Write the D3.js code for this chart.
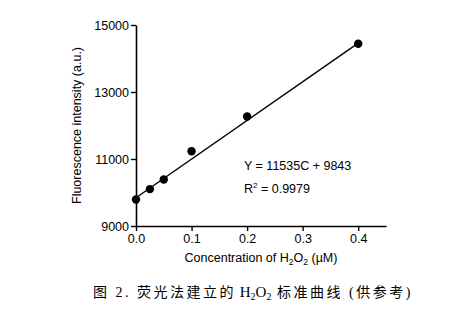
<!DOCTYPE html>
<html>
<head>
<meta charset="utf-8">
<script src="https://cdn.jsdelivr.net/npm/d3@7"></script>
<style>
  html, body { margin: 0; padding: 0; background: #fff; }
  svg { display: block; }
  text { fill: #000; }
</style>
</head>
<body>
<svg id="chart" width="465" height="322"></svg>
<script>
// H2O2 standard curve measurements
const concentrations = [0, 0.025, 0.05, 0.1, 0.2, 0.4];          // µM
const intensities    = [9790, 10100, 10390, 11230, 12270, 14440]; // a.u.
const slope = 11535, intercept = 9843;
const fitRange = [0, 0.4];
const xTicks = [0, 0.1, 0.2, 0.3, 0.4];
const yTicks = [9000, 11000, 13000, 15000];

const svg = d3.select("#chart");
const plotLeft = 136, plotRight = 386, plotTop = 25, plotBottom = 226;

const x = d3.scaleLinear().domain([0, 0.45]).range([plotLeft, plotRight]);
const y = d3.scaleLinear().domain([9000, 15000]).range([plotBottom, plotTop]);

const font = "'Liberation Sans', Arial, sans-serif";

// axes
const xAxis = svg.append("g")
  .attr("transform", `translate(0,${plotBottom})`)
  .call(d3.axisBottom(x).tickValues(xTicks).tickFormat(d3.format(".1f")).tickSize(5).tickSizeOuter(0));
const yAxis = svg.append("g")
  .attr("transform", `translate(${plotLeft},0)`)
  .call(d3.axisLeft(y).tickValues(yTicks).tickFormat(d3.format("d")).tickSize(5).tickSizeOuter(0));

[xAxis, yAxis].forEach(g => {
  g.select(".domain").attr("stroke", "#000").attr("stroke-width", 1.6);
  g.selectAll(".tick line").attr("stroke", "#000").attr("stroke-width", 1.4);
  g.selectAll(".tick text").attr("font-family", font).attr("font-size", 12.5).attr("fill", "#000");
});
xAxis.selectAll(".tick text").attr("dy", "0.75em").attr("y", 8);
yAxis.selectAll(".tick text").attr("x", -7);

// fitted line
svg.append("line")
  .attr("x1", x(fitRange[0])).attr("y1", y(slope * fitRange[0] + intercept))
  .attr("x2", x(fitRange[1])).attr("y2", y(slope * fitRange[1] + intercept))
  .attr("stroke", "#000").attr("stroke-width", 1.4);

// data points
svg.append("g").selectAll("circle")
  .data(concentrations.map((c, i) => [c, intensities[i]]))
  .join("circle")
  .attr("cx", d => x(d[0])).attr("cy", d => y(d[1]))
  .attr("r", 4.2).attr("fill", "#000");

// equation
svg.append("text")
  .attr("x", 244).attr("y", 170)
  .attr("font-family", font).attr("font-size", 12.5)
  .text(`Y = ${slope}C + ${intercept}`);
const r2 = svg.append("text")
  .attr("x", 244).attr("y", 193)
  .attr("font-family", font).attr("font-size", 12.5);
r2.append("tspan").text("R");
r2.append("tspan").attr("font-size", 8).attr("dy", -5).text("2");
r2.append("tspan").attr("dy", 5).text(" = 0.9979");

// axis titles
const xt = svg.append("text")
  .attr("x", (plotLeft + plotRight) / 2).attr("y", 262)
  .attr("text-anchor", "middle")
  .attr("font-family", font).attr("font-size", 12.5);
xt.append("tspan").text("Concentration of H");
xt.append("tspan").attr("font-size", 8.5).attr("dy", 3).text("2");
xt.append("tspan").attr("dy", -3).text("O");
xt.append("tspan").attr("font-size", 8.5).attr("dy", 3).text("2");
xt.append("tspan").attr("dy", -3).text(" (µM)");

svg.append("text")
  .attr("transform", `translate(81,${(plotTop + plotBottom) / 2}) rotate(-90)`)
  .attr("text-anchor", "middle")
  .attr("font-family", font).attr("font-size", 12.5)
  .text("Fluorescence intensity (a.u.)");

// caption
const cap = svg.append("text")
  .attr("x", 93).attr("y", 297)
  .attr("font-family", "'Liberation Serif', 'Noto Sans CJK SC', serif")
  .attr("font-size", 14).attr("letter-spacing", 2.5);
cap.append("tspan").attr("font-family", "'Noto Sans CJK SC'").text("图");
cap.append("tspan").text(" 2. ");
cap.append("tspan").attr("font-family", "'Noto Sans CJK SC'").text("荧光法建立的");
cap.append("tspan").attr("letter-spacing", 0).attr("font-size", 15).text(" H");
cap.append("tspan").attr("letter-spacing", 0).attr("font-size", 10).attr("dy", 3).text("2");
cap.append("tspan").attr("letter-spacing", 0).attr("font-size", 15).attr("dy", -3).text("O");
cap.append("tspan").attr("letter-spacing", 0).attr("font-size", 10).attr("dy", 3).text("2");
cap.append("tspan").attr("dy", -3).attr("font-family", "'Noto Sans CJK SC'").text(" 标准曲线");
cap.append("tspan").text(" (");
cap.append("tspan").attr("font-family", "'Noto Sans CJK SC'").text("供参考");
cap.append("tspan").text(")");
</script>
</body>
</html>
